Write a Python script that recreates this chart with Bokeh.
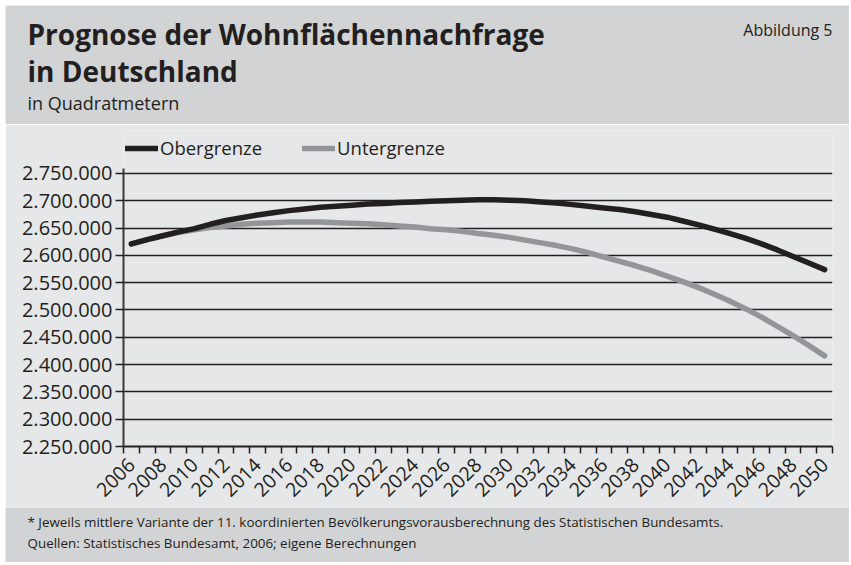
import math
from bokeh.plotting import figure
from bokeh.models import Label, Legend, LegendItem, FixedTicker
from bokeh.layouts import column
from bokeh.embed import file_html
from bokeh.resources import INLINE

# ---------------- data ----------------
years = list(range(2006, 2051))
obergrenze = [
    2621000, 2629000, 2636000, 2643000, 2649000, 2657000, 2664000, 2669000, 2674000, 2678000,
    2682000, 2685000, 2688000, 2690000, 2692000, 2694000, 2695000, 2697000, 2698000, 2699000,
    2700000, 2701000, 2702000, 2702000, 2701000, 2700000, 2698000, 2696000, 2693000, 2690000,
    2687000, 2684000, 2680000, 2675000, 2670000, 2663000, 2656000, 2648000, 2640000, 2631000,
    2621000, 2610000, 2598000, 2586000, 2574000,
]
untergrenze = [
    2621000, 2629000, 2636000, 2642000, 2647000, 2651000, 2654000, 2657000, 2659000, 2660000,
    2661000, 2661000, 2661000, 2660000, 2659000, 2658000, 2656000, 2654000, 2652000, 2649000,
    2647000, 2644000, 2640000, 2637000, 2633000, 2628000, 2623000, 2618000, 2612000, 2605000,
    2597000, 2589000, 2581000, 2572000, 2562000, 2552000, 2541000, 2529000, 2516000, 2502000,
    2487000, 2470000, 2453000, 2435000, 2416000,
]
series_names = ["Obergrenze", "Untergrenze"]
y_ticks = [2250000, 2300000, 2350000, 2400000, 2450000, 2500000,
           2550000, 2600000, 2650000, 2700000, 2750000]
y_tick_labels = ["2.250.000", "2.300.000", "2.350.000", "2.400.000", "2.450.000", "2.500.000",
                 "2.550.000", "2.600.000", "2.650.000", "2.700.000", "2.750.000"]
x_ticks = [2006, 2008, 2010, 2012, 2014, 2016, 2018, 2020, 2022, 2024, 2026, 2028,
           2030, 2032, 2034, 2036, 2038, 2040, 2042, 2044, 2046, 2048, 2050]
x_tick_labels = ["2006", "2008", "2010", "2012", "2014", "2016", "2018", "2020", "2022", "2024",
                 "2026", "2028", "2030", "2032", "2034", "2036", "2038", "2040", "2042", "2044",
                 "2046", "2048", "2050"]

title_line1 = "Prognose der Wohnflächennachfrage"
title_line2 = "in Deutschland"
subtitle = "in Quadratmetern"
figure_no = "Abbildung 5"
note = "* Jeweils mittlere Variante der 11. koordinierten Bevölkerungsvorausberechnung des Statistischen Bundesamts."
source = "Quellen: Statistisches Bundesamt, 2006; eigene Berechnungen"

# ---------------- style ----------------
W = 844
DARK_BG = "#d1d3d4"
LIGHT_BG = "#e6e7e8"
INK = "#231f20"
GREY_LINE = "#939598"
FONT = "Open Sans"


def blank(height):
    f = figure(width=W, height=height, x_range=(0, 1), y_range=(0, 1),
               x_axis_type=None, y_axis_type=None, title_location=None,
               toolbar_location=None, output_backend="svg", min_border=0,
               background_fill_color=DARK_BG, border_fill_color=DARK_BG,
               outline_line_color=None, frame_align=False)
    f.grid.visible = False
    return f


def add_text(fig, x, y, text, size, bold=False, align="left"):
    fig.add_layout(Label(x=x, y=y, x_units="screen", y_units="screen", text=text,
                         text_font=FONT, text_font_style="bold" if bold else "normal",
                         text_font_size=size, text_color=INK, text_align=align,
                         text_baseline="alphabetic"))


# ---------------- header ----------------
header = blank(119)
add_text(header, 22, 91, title_line1, "28px", bold=True)
add_text(header, 22, 54, title_line2, "28px", bold=True)
add_text(header, 22, 22, subtitle, "18px")
add_text(header, 827, 95, figure_no, "16px", align="right")

# ---------------- main chart ----------------
# frame spans from just above the legend down to the x axis; the y axis line is bounded
Y_LOW, Y_AXIS_TOP, Y_FRAME_TOP = 2250000, 2759000, 2828750
main = figure(width=W, height=383, x_range=(2005.5, 2050.5), y_range=(Y_LOW, Y_FRAME_TOP),
              toolbar_location=None, output_backend="svg", title_location=None,
              min_border_left=118, min_border_right=17, min_border_top=6, min_border_bottom=61,
              background_fill_color=LIGHT_BG, border_fill_color=LIGHT_BG,
              outline_line_color=None, frame_align=False)

r_grey = main.line(years, untergrenze, line_width=5.5, line_color=GREY_LINE,
                   line_cap="round", line_join="round")
r_black = main.line(years, obergrenze, line_width=5.5, line_color=INK,
                    line_cap="round", line_join="round")

main.xgrid.visible = False
main.ygrid.ticker = FixedTicker(ticks=y_ticks)
main.ygrid.grid_line_color = INK
main.ygrid.grid_line_width = 1.3

yax = main.yaxis[0]
yax.ticker = FixedTicker(ticks=y_ticks)
yax.bounds = (Y_LOW, Y_AXIS_TOP)
yax.major_label_overrides = dict(zip(y_ticks, y_tick_labels))
yax.major_tick_out = 8
yax.major_tick_in = 0
yax.major_tick_line_color = INK
yax.major_tick_line_width = 1.3
yax.minor_tick_out = 0
yax.minor_tick_in = 0
yax.axis_line_color = "#3a3a3a"
yax.axis_line_width = 2
yax.major_label_standoff = 3
yax.major_label_text_font = FONT
yax.major_label_text_font_size = "20px"
yax.major_label_text_color = INK

boundaries = [y - 0.5 for y in years] + [years[-1] + 0.5]
xax = main.xaxis[0]
xax.ticker = FixedTicker(ticks=x_ticks, minor_ticks=boundaries)
xax.major_label_overrides = dict(zip(x_ticks, x_tick_labels))
xax.major_tick_out = 0
xax.major_tick_in = 0
xax.minor_tick_out = 7
xax.minor_tick_in = 0
xax.minor_tick_line_color = INK
xax.minor_tick_line_width = 1.5
xax.axis_line_color = INK
xax.axis_line_width = 2
xax.major_label_orientation = math.pi / 4
xax.major_label_standoff = 8
xax.major_label_text_font = FONT
xax.major_label_text_font_size = "19.5px"
xax.major_label_text_color = INK

legend = Legend(items=[LegendItem(label=series_names[0], renderers=[r_black]),
                       LegendItem(label=series_names[1], renderers=[r_grey])],
                orientation="horizontal", location=(2, 286),
                background_fill_alpha=0, border_line_color=None,
                label_text_font=FONT, label_text_font_size="18.5px", label_text_color=INK,
                glyph_width=33, glyph_height=20, label_standoff=2, spacing=40,
                padding=0, margin=0)
main.add_layout(legend)

# ---------------- footer ----------------
footer = blank(55)
add_text(footer, 22, 41, note, "13.4px")
add_text(footer, 22, 20, source, "13.4px")

page = column(header, main, footer, spacing=0, margin=(5, 0, 0, 5))
open("out.html", "w").write(file_html(page, INLINE))
